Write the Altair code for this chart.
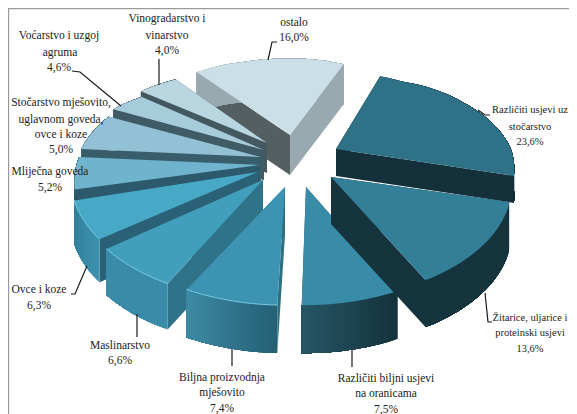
import math
import altair as alt

# --- chart values ---
names = ["Različiti usjevi uz stočarstvo", "Žitarice, uljarice i proteinski usjevi",
         "Različiti biljni usjevi na oranicama", "Biljna proizvodnja mješovito", "Maslinarstvo",
         "Ovce i koze", "Mliječna goveda", "Stočarstvo mješovito, uglavnom goveda, ovce i koze",
         "Voćarstvo i uzgoj agruma", "Vinogradarstvo i vinarstvo", "ostalo"]
shares = [23.6, 13.6, 7.5, 7.4, 6.6, 6.3, 5.2, 5.0, 4.6, 4.0, 16.0]

# --- look of the exploded pie (one row per slice) ---
apex = [(336, 149), (331, 177), (306, 187), (285, 187), (263, 180), (258, 172),
        (259, 165), (261, 157), (264, 150), (267, 143), (290, 135)]
depth = [27, 47, 48, 48, 46, 43, 36, 32, 30, 30, 40]
top = ["#2f7186", "#337f97", "#388ca8", "#3c93b2", "#429fbb", "#48a9c6",
       "#6fb3cd", "#92c0d4", "#a6cbdb", "#b8d5e0", "#cbdfe6"]
end_face = ["#14303a", "#16343e", "#1f4753", "#2d6f83", "#2f6e84", "#2a6177",
            "#2c5a6c", "#3a5d6b", "#3f5b66", "#44585f", "#98a9b0"]
start_face = ["#14303a", "#16343e", "#1c4450", "#2d6f83", "#2f7389", "#2a6177",
              "#2c5a6c", "#3a5d6b", "#3f5b66", "#44585f", "#535f61"]
rim_a = ["#14303a", "#16343e", "#14323c", "#256075", "#3a8ba8", "#3f92ad",
         "#2c5a6c", "#3a5d6b", "#3f5b66", "#44585f", "#98a9b0"]
rim_b = ["#14303a", "#16343e", "#265565", "#3d8aa5", "#3a8ba8", "#2f7f9b",
         "#2c5a6c", "#3a5d6b", "#3f5b66", "#44585f", "#98a9b0"]
# the 3-D perspective of the source stretches each slice's edges a little
nudge_start = [-1, -3, -3, 0, 0, 2, 2, 0, 2, -4.5, -5]
nudge_end = [-2, -4, -1, 1, 1, 0, 0, 1.5, -3, -4, 3.5]
radius_angle = [0, 30, 60, 90, 105, 150, 180, 210, 235, 255, 275, 293, 305, 320, 340, 360]
radius_len = [127, 130, 150, 175, 184, 196, 197, 197, 194, 190, 180, 167, 152, 139, 130, 127]
squash = 0.6
first_angle = 21.0
glint_slices = [3, 4, 5]

label_lines = [
    ("Vinogradarstvo i", 167, 19), ("vinarstvo", 167, 36), ("4,0%", 167, 51),
    ("Voćarstvo i uzgoj", 59, 36), ("agruma", 60, 53), ("4,6%", 59, 68),
    ("Stočarstvo mješovito,", 61, 103), ("uglavnom goveda,", 61, 120), ("ovce i koze", 61, 135), ("5,0%", 61, 150),
    ("Mliječna goveda", 50, 172), ("5,2%", 50, 188),
    ("ostalo", 294, 23), ("16,0%", 294, 38),
    ("Biljna proizvodnja", 222, 378), ("mješovito", 222, 393), ("7,4%", 222, 409),
    ("Različiti biljni usjevi", 386, 379), ("na oranicama", 386, 394), ("7,5%", 386, 410),
    ("Maslinarstvo", 120, 346), ("6,6%", 120, 361),
    ("Ovce i koze", 39, 290), ("6,3%", 39, 306),
]
right_label_lines = [
    ("Različiti usjevi uz", 530, 110), ("stočarstvo", 530, 127), ("23,6%", 530, 142),
    ("Žitarice, uljarice i", 530, 318), ("proteinski usjevi", 530, 333), ("13,6%", 530, 349),
]
leaders = [
    [(268, 60), (272, 42), (277, 42)],
    [(478, 110), (485, 115), (490, 115)],
    [(485, 293), (488, 322), (492, 322)],
    [(352, 350), (352, 367)],
    [(232, 349), (232, 366)],
    [(137, 314), (137, 337)],
    [(87, 266), (75, 294), (71, 294)],
    [(72, 71), (80, 72), (121, 106)],
    [(159, 85), (159, 59)],
]
frame = [(8.5, 414), (8.5, 8.5), (577, 8.5)]
OFF = 8  # page margin


def interp(a, xs, ys):
    a = a % 360
    for i in range(len(xs) - 1):
        if xs[i] <= a <= xs[i + 1]:
            f = (a - xs[i]) / (xs[i + 1] - xs[i])
            return ys[i] + f * (ys[i + 1] - ys[i])
    return ys[-1]


def mix(c1, c2, f):
    p = [int(c1[i:i + 2], 16) for i in (1, 3, 5)]
    q = [int(c2[i:i + 2], 16) for i in (1, 3, 5)]
    return "#%02x%02x%02x" % tuple(round(p[i] + f * (q[i] - p[i])) for i in range(3))


def poly(points, color):
    pts = [[x - OFF, y - OFF] for x, y in points]
    pts.append(pts[0])
    return {"type": "Feature", "geometry": {"type": "Polygon", "coordinates": [pts]},
            "properties": {"color": color}}


def line(points, color):
    return {"type": "Feature",
            "geometry": {"type": "LineString", "coordinates": [[x - OFF, y - OFF] for x, y in points]},
            "properties": {"color": color}}


# painter's order: far slices first, the two front-right slices last
order = [10, 9, 8, 7, 6, 5, 4, 3, 2, 0, 1]
total = sum(shares)
starts = []
run = first_angle
for s in shares:
    starts.append(run)
    run += s / total * 360

features = []
glints = []
for i in order:
    a0 = starts[i] + nudge_start[i]
    sweep = shares[i] / total * 360 + nudge_end[i] - nudge_start[i]
    ax, ay = apex[i]
    T = depth[i]
    n = 28
    arc = []
    for k in range(n + 1):
        t = a0 + sweep * k / n
        r = interp(t, radius_angle, radius_len)
        rad = math.radians(t)
        arc.append((ax + r * math.sin(rad), ay - squash * r * math.cos(rad)))
    # cut faces
    p1 = arc[-1]
    features.append(poly([p1, (ax, ay), (ax, ay + T), (p1[0], p1[1] + T)], end_face[i]))
    p0 = arc[0]
    features.append(poly([p0, (ax, ay), (ax, ay + T), (p0[0], p0[1] + T)], start_face[i]))
    # shaded rim: each step paints from its angle to the slice end, so no seams show
    for k in range(n):
        rest = arc[k:]
        features.append(poly(rest + [(x, y + T) for x, y in reversed(rest)],
                             mix(rim_a[i], rim_b[i], k / (n - 1))))
    # top
    features.append(poly([(ax, ay)] + arc, top[i]))
    if i in glint_slices:
        glints.append(line(arc, "#7fd0e8"))

proj = dict(type="identity", scale=1, translate=[0, 0])

pie = alt.Chart(alt.Data(values=features)).mark_geoshape(strokeWidth=0).encode(
    color=alt.Color("properties.color:N", scale=None, legend=None),
).project(**proj)

glint_layer = alt.Chart(alt.Data(values=glints)).mark_geoshape(
    filled=False, stroke="#7fd0e8", strokeWidth=0.9).project(**proj)

leader_layer = alt.Chart(alt.Data(values=[line(l, "#1a1a1a") for l in leaders])).mark_geoshape(
    filled=False, stroke="#1a1a1a", strokeWidth=1.2).project(**proj)

frame_layer = alt.Chart(alt.Data(values=[line(frame, "#999999")])).mark_geoshape(
    filled=False, stroke="#9a9a9a", strokeWidth=1.4).project(**proj)


def text_layer(rows, size):
    return alt.Chart(alt.Data(values=[{"t": t, "x": x - OFF, "y": y - OFF} for t, x, y in rows])).mark_text(
        font="Liberation Serif", fontSize=size, color="#222222", baseline="middle", align="center"
    ).encode(
        x=alt.X("x:Q", scale=None, axis=None),
        y=alt.Y("y:Q", scale=None, axis=None),
        text="t:N",
    )


chart = alt.layer(frame_layer, pie, glint_layer, leader_layer,
                  text_layer(label_lines, 11.5), text_layer(right_label_lines, 10.5)).properties(
    width=561, height=406, padding=0, autosize=alt.AutoSizeParams(type="none"), background="white",
).configure_view(stroke=None)

chart.save("out.html", embed_options={"renderer": "svg", "actions": False})
